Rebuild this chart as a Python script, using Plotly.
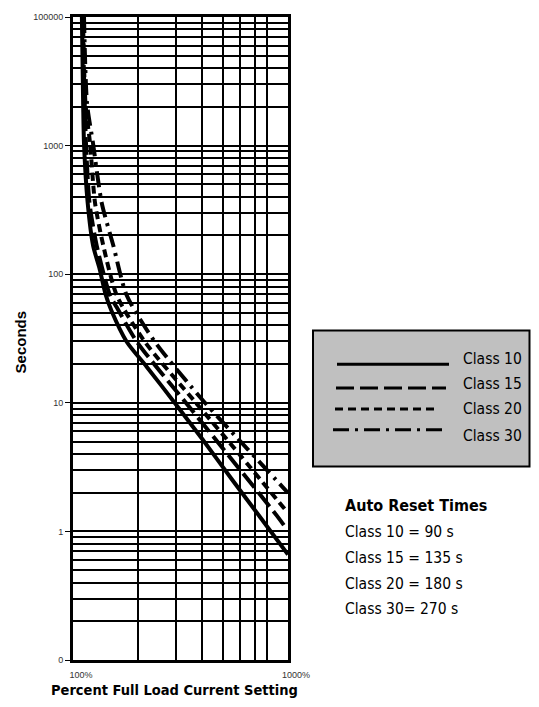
import plotly.graph_objects as go

# ---- data (percent of FLC setting, seconds) ----
pct_class10 = [110, 111.5, 112.5, 117, 124, 133, 142, 151, 178, 220, 300, 400, 550, 750, 1000]
sec_class10 = [10000, 2100, 1040, 360, 167, 110, 69, 52, 29.7, 19.1, 9.8, 5.2, 2.52, 1.26, 0.66]

pct_class15 = [110.7, 113.4, 114.9, 119.3, 128.9, 148.6, 160, 198.5, 332, 600, 889, 1000]
sec_class15 = [10000, 2128, 1043, 359, 167, 68.6, 55, 29.7, 10.2, 3.0, 1.32, 1.01]

pct_class20 = [111.3, 114.3, 120, 126.6, 138.3, 159.7, 216.2, 369.4, 600, 1000]
sec_class20 = [10000, 2128, 1043, 359, 167, 68.6, 29.7, 10.2, 3.9, 1.39]

pct_class30 = [112.5, 116.2, 123.9, 136, 154, 177.7, 240.7, 406.8, 650, 1000]
sec_class30 = [10000, 2128, 1043, 359, 167, 68.6, 29.7, 10.2, 4.35, 1.99]

class_names = ["Class 10", "Class 15", "Class 20", "Class 30"]
reset_lines = ["Class 10 = 90 s", "Class 15 = 135 s", "Class 20 = 180 s", "Class 30= 270 s"]

y_tick_vals = [0.1, 1, 10, 100, 1000, 10000]
y_tick_text = ["0", "1", "10", "100", "1000", "100000"]
x_tick_vals = [100, 1000]
x_tick_text = ["100%", "1000%"]

# ---- styling ----
COND = "DejaVu Sans Condensed, DejaVu Sans, sans-serif"
dashes = ["solid", "18px,6px", "8px,5px", "16px,6px,3px,6px"]
series = [(pct_class10, sec_class10), (pct_class15, sec_class15),
          (pct_class20, sec_class20), (pct_class30, sec_class30)]

fig = go.Figure()
for (xs, ys), name, dash in zip(series, class_names, dashes):
    fig.add_trace(go.Scatter(x=xs, y=ys, mode="lines", name=name, showlegend=False,
                             line=dict(color="black", width=4, dash=dash,
                                       shape="spline", smoothing=0.7)))

# minor gridline positions (as drawn in the reference)
y_minor = [k * 10 ** d for d in range(-1, 4) for k in range(2, 10)]
x_minor = [k * 100 for k in range(2, 9)]

# page coordinates of the plot area (page has an 8px body margin)
OFF = 8
PL, PR, PT, PB = 73, 288, 12, 660
W, H = 531, 691


def px(p):
    return (p - PL) / (PR - PL)


def py(p):
    return (PB - p) / (PB - PT)


shapes = []
annotations = []

# legend box
shapes.append(dict(type="rect", xref="paper", yref="paper",
                   x0=px(313), x1=px(529.5), y0=py(465), y1=py(328),
                   fillcolor="#c0c0c0", line=dict(color="black", width=2), layer="above"))
leg_line_y = [362, 386, 407, 428]
leg_line_x = [(337, 449), (336, 446), (335, 438), (333, 445)]
leg_text_y = [357, 382, 407, 434]
for name, dash, ly, (lx0, lx1), ty in zip(class_names, dashes, leg_line_y, leg_line_x, leg_text_y):
    shapes.append(dict(type="line", xref="paper", yref="paper",
                       x0=px(lx0), x1=px(lx1), y0=py(ly), y1=py(ly),
                       line=dict(color="black", width=3, dash=dash), layer="above"))
    annotations.append(dict(text=name, xref="paper", yref="paper", x=px(461), y=py(ty),
                            xanchor="left", yanchor="middle", showarrow=False,
                            font=dict(family=COND, size=15.5, color="black")))

# auto reset text
annotations.append(dict(text="<b>Auto Reset Times</b>", xref="paper", yref="paper",
                        x=px(343), y=py(504), xanchor="left", yanchor="middle", showarrow=False,
                        font=dict(family=COND, size=16, color="black")))
for txt, ty in zip(reset_lines, [531, 557, 583, 609]):
    annotations.append(dict(text=txt, xref="paper", yref="paper", x=px(343), y=py(ty),
                            xanchor="left", yanchor="middle", showarrow=False,
                            font=dict(family=COND, size=15.5, color="black")))

# axis titles
annotations.append(dict(text="<b>Percent Full Load Current Setting</b>", xref="paper", yref="paper",
                        x=px(174), y=py(690), xanchor="center", yanchor="middle", showarrow=False,
                        font=dict(family=COND, size=14.5, color="black")))
annotations.append(dict(text="<b>Seconds</b>", xref="paper", yref="paper",
                        x=px(20), y=py(340), xanchor="center", yanchor="middle", showarrow=False,
                        textangle=-90,
                        font=dict(family="Liberation Sans, Arial, sans-serif", size=15, color="black")))

fig.update_layout(
    width=W, height=H,
    margin=dict(l=PL - OFF, r=W - (PR - OFF), t=PT - OFF, b=H - (PB - OFF), pad=0),
    paper_bgcolor="white", plot_bgcolor="white",
    shapes=shapes, annotations=annotations,
    xaxis=dict(type="log", range=[2, 3], tickmode="array", tickvals=x_tick_vals, ticktext=x_tick_text,
               showgrid=True, gridcolor="black", gridwidth=2,
               showline=True, linecolor="black", linewidth=3, mirror=True,
               ticks="", ticklabelshift=8, ticklabelstandoff=4,
               tickfont=dict(family="Liberation Sans, Arial, sans-serif", size=9, color="#333"),
               minor=dict(tickmode="array", tickvals=x_minor, showgrid=True,
                          gridcolor="black", gridwidth=2, ticks=""),
               zeroline=False, fixedrange=True),
    yaxis=dict(type="log", range=[-1, 4], tickmode="array", tickvals=y_tick_vals, ticktext=y_tick_text,
               showgrid=True, gridcolor="black", gridwidth=2,
               showline=True, linecolor="black", linewidth=3, mirror=True,
               ticks="outside", ticklen=5, tickwidth=1, tickcolor="black",
               tickfont=dict(family="Liberation Sans, Arial, sans-serif", size=9, color="#333"),
               minor=dict(tickmode="array", tickvals=y_minor, showgrid=True,
                          gridcolor="black", gridwidth=2, ticks=""),
               zeroline=False, fixedrange=True),
)

fig.write_html("out.html")
